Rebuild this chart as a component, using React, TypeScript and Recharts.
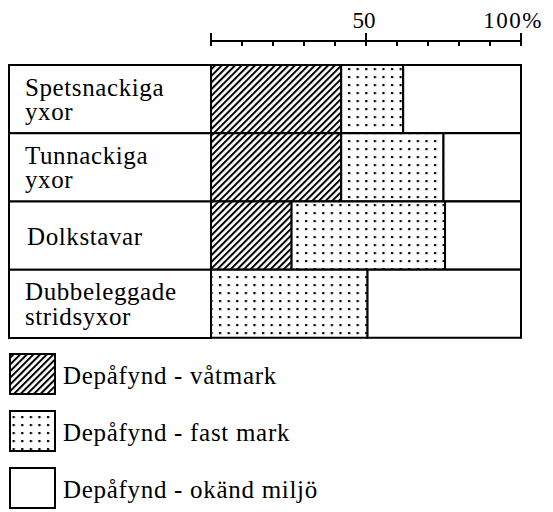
import React from 'react';
import { BarChart, Bar, XAxis, YAxis, Legend } from 'recharts';

// ---------- data ----------
const categories = ['Spetsnackiga yxor', 'Tunnackiga yxor', 'Dolkstavar', 'Dubbeleggade stridsyxor'];
const categoryLines = [['Spetsnackiga', 'yxor'], ['Tunnackiga', 'yxor'], ['Dolkstavar'], ['Dubbeleggade', 'stridsyxor']];
const vatmark = [42, 42, 26, 0];
const fastMark = [20, 33, 49.5, 50.5];
const okandMiljo = [38, 25, 24.5, 49.5];
const seriesKeys = ['vatmark', 'fast', 'okand'];
const seriesNames = ['Depåfynd - våtmark', 'Depåfynd - fast mark', 'Depåfynd - okänd miljö'];
const xTicks = [0, 10, 20, 30, 40, 50, 60, 70, 80, 90, 100];
const majorTicks = [0, 50, 100];
const xTickLabels: Record<number, string> = { 50: '50', 100: '100%' };

const data = categories.map((c, i) => ({
  category: c,
  vatmark: vatmark[i],
  fast: fastMark[i],
  okand: okandMiljo[i],
}));

// ---------- layout ----------
const W = 553;
const H = 512;
const LABEL_LEFT = 9;
const PLOT_LEFT = 211;
const PLOT_RIGHT = 521;
const PLOT_TOP = 65;
const PLOT_BOTTOM = 338;
const PLOT_W = PLOT_RIGHT - PLOT_LEFT;
const ROW_H = (PLOT_BOTTOM - PLOT_TOP) / categories.length;
const AXIS_Y = 41;
const FONT = "'Liberation Serif', Tinos, 'Times New Roman', Times, serif";
const textStyle = { fontFamily: FONT };

const fills: Record<string, string> = {
  vatmark: 'url(#hatch)',
  fast: 'url(#dots)',
  okand: '#ffffff',
};
const legendFills: Record<string, string> = {
  vatmark: 'url(#lg-hatch)',
  fast: 'url(#lg-dots)',
  okand: '#ffffff',
};

const Patterns = ({ prefix }: { prefix: string }) => (
  <defs>
    <pattern id={`${prefix}hatch`} patternUnits="userSpaceOnUse" width={4.7} height={4.7} patternTransform="rotate(45)">
      <rect x={0} y={0} width={4.7} height={4.7} fill="#fff" />
      <line x1={1} y1={0} x2={1} y2={4.7} stroke="#000" strokeWidth={2} />
    </pattern>
    <pattern id={`${prefix}dots`} patternUnits="userSpaceOnUse" width={8.6} height={8} x={2} y={2}>
      <rect x={0} y={0} width={8.6} height={8} fill="#fff" />
      <rect x={2} y={2} width={2.2} height={2.2} fill="#000" />
    </pattern>
  </defs>
);

const XTick = (props: any) => {
  const { x, payload } = props;
  const v = payload.value as number;
  const major = majorTicks.includes(v);
  const label = xTickLabels[v];
  return (
    <g>
      {v === 0 && <line x1={x} y1={AXIS_Y} x2={x + PLOT_W} y2={AXIS_Y} stroke="#000" strokeWidth={2} />}
      <line x1={x} y1={major ? AXIS_Y - 8 : AXIS_Y} x2={x} y2={AXIS_Y + 5} stroke="#000" strokeWidth={2} />
      {label && (
        <text
          x={v === 100 ? x - 8 : x - 2}
          y={28}
          textAnchor="middle"
          style={textStyle}
          fontSize={23}
          fill="#000"
          letterSpacing={v === 100 ? 1.5 : 0}
        >
          {label}
        </text>
      )}
    </g>
  );
};

const YTick = (props: any) => {
  const { y, index } = props;
  const lines = categoryLines[index] || [];
  const top = y - ROW_H / 2;
  return (
    <g>
      <rect x={LABEL_LEFT} y={top} width={PLOT_LEFT - LABEL_LEFT} height={ROW_H} fill="#fff" stroke="#000" strokeWidth={2} />
      {lines.length === 1 ? (
        <text x={27} y={y + 9} style={textStyle} fontSize={25} fill="#000" letterSpacing={0.6}>
          {lines[0]}
        </text>
      ) : (
        lines.map((l: string, i: number) => (
          <text key={i} x={25} y={y - 3.5 + i * 24.5} style={textStyle} fontSize={25} fill="#000" letterSpacing={0.6}>
            {l}
          </text>
        ))
      )}
    </g>
  );
};

const LegendContent = () => (
  <svg width={W} height={172} style={{ display: 'block' }}>
    <Patterns prefix="lg-" />
    {seriesKeys.map((k, i) => {
      const top = 14 + i * 57;
      return (
        <g key={k}>
          <rect x={LABEL_LEFT + 1} y={top} width={45} height={40} fill={legendFills[k]} stroke="#000" strokeWidth={2} />
          <text x={63} y={top + 30} style={textStyle} fontSize={25} fill="#000" letterSpacing={0.7}>
            {seriesNames[i]}
          </text>
        </g>
      );
    })}
  </svg>
);

export default function App() {
  return (
    <div style={{ position: 'absolute', left: 0, top: 0, width: W, height: H, background: '#fff' }}>
      <BarChart
        width={W}
        height={H}
        data={data}
        layout="vertical"
        barCategoryGap={0}
        margin={{ top: 0, right: W - PLOT_RIGHT, bottom: H - PLOT_BOTTOM, left: LABEL_LEFT }}
      >
        <Patterns prefix="" />
        <XAxis
          type="number"
          orientation="top"
          domain={[0, 100]}
          ticks={xTicks}
          interval={0}
          height={PLOT_TOP}
          axisLine={false}
          tickLine={false}
          tick={<XTick />}
        />
        <YAxis
          type="category"
          dataKey="category"
          width={PLOT_LEFT - LABEL_LEFT}
          interval={0}
          axisLine={false}
          tickLine={false}
          tick={<YTick />}
        />
        {seriesKeys.map((k, i) => (
          <Bar
            key={k}
            dataKey={k}
            name={seriesNames[i]}
            stackId="a"
            fill={fills[k]}
            stroke="#000"
            strokeWidth={2}
            isAnimationActive={false}
          />
        ))}
        <Legend
          layout="vertical"
          verticalAlign="middle"
          align="center"
          wrapperStyle={{ left: 0, top: 340, width: W, margin: 0, padding: 0 }}
          content={<LegendContent />}
        />
      </BarChart>
    </div>
  );
}
